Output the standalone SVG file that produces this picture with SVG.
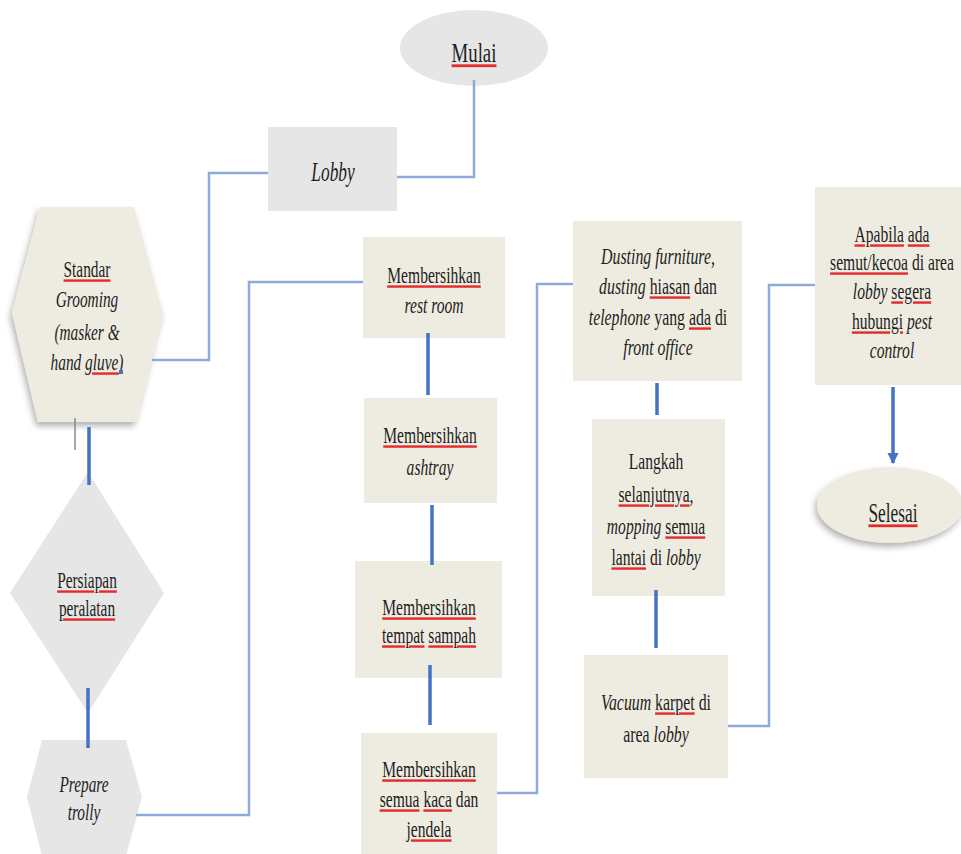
<svg xmlns="http://www.w3.org/2000/svg" width="961" height="854" viewBox="0 0 961 854">
<style>
.gray{fill:#e6e6e6}
.cream{fill:#eeece1}
.t{font-family:"Liberation Serif","Times New Roman",serif;font-size:24px;fill:#1e1e1e;text-anchor:middle}
.big{font-size:28px}
.i{font-style:italic}
.sq{fill:#e42b2b;text-decoration:underline;text-decoration-thickness:2px;text-underline-offset:3px}
.k{fill:#1e1e1e}
.thin{fill:none;stroke:#8eaadb;stroke-width:2.5}
.thick{fill:none;stroke:#4472c4;stroke-width:3.5}
</style>
<defs>
<filter id="sh" x="-20%" y="-20%" width="140%" height="140%">
<feDropShadow dx="-2" dy="4" stdDeviation="3" flood-color="#000" flood-opacity="0.3"/>
</filter>
<marker id="arr" viewBox="0 0 10 10" refX="9" refY="5" markerWidth="3.2" markerHeight="3.2" orient="auto" markerUnits="strokeWidth">
<path d="M0,0 L10,5 L0,10 Z" fill="#4472c4"/>
</marker>
</defs>
<rect width="961" height="854" fill="#ffffff"/>

<g id="n-mulai">
<ellipse class="gray" cx="474" cy="48" rx="74" ry="38"/>
<text class="t big" transform="translate(474 0) scale(0.67 1)" y="62"><tspan class="sq"><tspan class="k">Mulai</tspan></tspan></text>
</g>

<g id="n-lobby">
<rect class="gray" x="268" y="127" width="129" height="84"/>
<text class="t big i" transform="translate(333 0) scale(0.62 1)" y="181">Lobby</text>
</g>

<g id="n-grooming">
<polygon class="cream" filter="url(#sh)" points="40,207 134,207 163,313 136,422 38,422 12,313"/>
<g class="t" transform="translate(87 0) scale(0.64 1)">
<text y="277"><tspan class="sq"><tspan class="k">Standar</tspan></tspan></text>
<text class="i" y="307">Grooming</text>
<text class="i" y="340">(masker &amp;</text>
<text class="i" y="370">hand <tspan class="sq"><tspan class="k">gluve</tspan></tspan>)</text>
</g>
<rect x="119" y="370" width="4" height="4" fill="#4472c4"/>
<line x1="75" y1="418" x2="75" y2="450" stroke="#888" stroke-width="1.5"/>
</g>

<g id="n-persiapan">
<polygon class="gray" points="88,472 164,593 88,713 10,593"/>
<g class="t" transform="translate(87 0) scale(0.64 1)">
<text y="588"><tspan class="sq"><tspan class="k">Persiapan</tspan></tspan></text>
<text y="616"><tspan class="sq"><tspan class="k">peralatan</tspan></tspan></text>
</g>
</g>

<g id="n-trolly">
<polygon class="gray" points="42,740 126,740 142,797 126,856 42,856 27,797"/>
<g class="t i" transform="translate(84 0) scale(0.64 1)">
<text y="792">Prepare</text>
<text y="820">trolly</text>
</g>
</g>

<g id="n-restroom">
<rect class="cream" x="363" y="237" width="142" height="101"/>
<g class="t" transform="translate(434 0) scale(0.65 1)">
<text y="283"><tspan class="sq"><tspan class="k">Membersihkan</tspan></tspan></text>
<text class="i" y="313">rest room</text>
</g>
</g>

<g id="n-ashtray">
<rect class="cream" x="364" y="398" width="133" height="105"/>
<g class="t" transform="translate(430 0) scale(0.65 1)">
<text y="443"><tspan class="sq"><tspan class="k">Membersihkan</tspan></tspan></text>
<text class="i" y="475">ashtray</text>
</g>
</g>

<g id="n-sampah">
<rect class="cream" x="355" y="561" width="147" height="117"/>
<g class="t" transform="translate(429 0) scale(0.65 1)">
<text y="615"><tspan class="sq"><tspan class="k">Membersihkan</tspan></tspan></text>
<text y="643"><tspan class="sq"><tspan class="k">tempat</tspan></tspan> <tspan class="sq"><tspan class="k">sampah</tspan></tspan></text>
</g>
</g>

<g id="n-kaca">
<rect class="cream" x="361" y="733" width="136" height="130"/>
<g class="t" transform="translate(429 0) scale(0.65 1)">
<text y="777"><tspan class="sq"><tspan class="k">Membersihkan</tspan></tspan></text>
<text y="807"><tspan class="sq"><tspan class="k">semua</tspan></tspan> <tspan class="sq"><tspan class="k">kaca</tspan></tspan> dan</text>
<text y="837"><tspan class="sq"><tspan class="k">jendela</tspan></tspan></text>
</g>
</g>

<g id="n-dusting">
<rect class="cream" x="573" y="221" width="169" height="160"/>
<g class="t" transform="translate(658 0) scale(0.66 1)">
<text class="i" y="264">Dusting furniture,</text>
<text y="294"><tspan class="i">dusting</tspan> <tspan class="sq"><tspan class="k">hiasan</tspan></tspan> dan</text>
<text y="325"><tspan class="i">telephone</tspan> yang <tspan class="sq"><tspan class="k">ada</tspan></tspan> di</text>
<text class="i" y="355">front office</text>
</g>
</g>

<g id="n-mopping">
<rect class="cream" x="592" y="419" width="133" height="177"/>
<g class="t" transform="translate(656 0) scale(0.65 1)">
<text y="469">Langkah</text>
<text y="502"><tspan class="sq"><tspan class="k">selanjutnya</tspan></tspan>,</text>
<text y="534"><tspan class="i">mopping</tspan> <tspan class="sq"><tspan class="k">semua</tspan></tspan></text>
<text y="565"><tspan class="sq"><tspan class="k">lantai</tspan></tspan> di <tspan class="i">lobby</tspan></text>
</g>
</g>

<g id="n-vacuum">
<rect class="cream" x="584" y="655" width="144" height="123"/>
<g class="t" transform="translate(656 0) scale(0.66 1)">
<text y="710"><tspan class="i">Vacuum</tspan> <tspan class="sq"><tspan class="k">karpet</tspan></tspan> di</text>
<text y="742">area <tspan class="i">lobby</tspan></text>
</g>
</g>

<g id="n-pest">
<rect class="cream" x="815" y="187" width="150" height="198"/>
<g class="t" transform="translate(892 0) scale(0.65 1)">
<text y="242"><tspan class="sq"><tspan class="k">Apabila</tspan></tspan> <tspan class="sq"><tspan class="k">ada</tspan></tspan></text>
<text y="270"><tspan class="sq"><tspan class="k">semut/kecoa</tspan></tspan> di area</text>
<text y="299"><tspan class="i">lobby</tspan> <tspan class="sq"><tspan class="k">segera</tspan></tspan></text>
<text y="329"><tspan class="sq"><tspan class="k">hubungi</tspan></tspan> <tspan class="i">pest</tspan></text>
<text class="i" y="358">control</text>
</g>
</g>

<g id="n-selesai">
<ellipse class="cream" filter="url(#sh)" cx="890" cy="505" rx="73" ry="38"/>
<text class="t big" transform="translate(893 0) scale(0.62 1)" y="522"><tspan class="sq"><tspan class="k">Selesai</tspan></tspan></text>
</g>

<g id="connectors">
<polyline class="thin" points="474,80 474,177 397,177"/>
<polyline class="thin" points="268,173 209,173 209,360 152,360"/>
<line class="thick" x1="89" y1="427" x2="89" y2="485"/>
<line class="thick" x1="88" y1="688" x2="88" y2="748"/>
<polyline class="thin" points="136,815 249,815 249,282 363,282"/>
<line class="thick" x1="428" y1="333" x2="428" y2="395"/>
<line class="thick" x1="432" y1="505" x2="432" y2="565"/>
<line class="thick" x1="430" y1="665" x2="430" y2="725"/>
<polyline class="thin" points="497,793 537,793 537,284 573,284"/>
<line class="thick" x1="657" y1="383" x2="657" y2="415"/>
<line class="thick" x1="656" y1="590" x2="656" y2="648"/>
<polyline class="thin" points="728,726 769,726 769,285 815,285"/>
<line class="thick" x1="893" y1="387" x2="893" y2="463" marker-end="url(#arr)"/>
</g>
</svg>
